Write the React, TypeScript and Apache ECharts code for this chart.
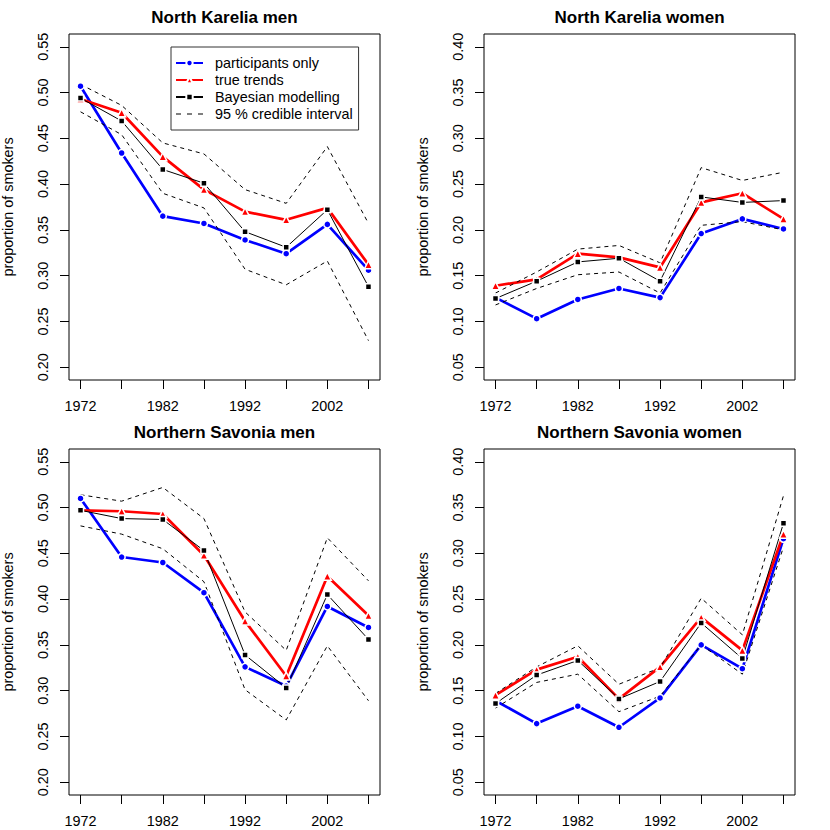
import { useEffect, useRef } from "react";
import * as echarts from "echarts";

const FONT = "Liberation Sans, Arial, Helvetica, sans-serif";

// survey years and tick labels
const years = [1972, 1977, 1982, 1987, 1992, 1997, 2002, 2007];
const yearLabels = [1972, 1982, 1992, 2002];
const menTicks = [0.2, 0.25, 0.3, 0.35, 0.4, 0.45, 0.5, 0.55];
const womenTicks = [0.05, 0.1, 0.15, 0.2, 0.25, 0.3, 0.35, 0.4];

// North Karelia men
const nkMenParticipants = [0.507, 0.434, 0.365, 0.357, 0.339, 0.324, 0.356, 0.306];
const nkMenTrue = [0.493, 0.478, 0.43, 0.394, 0.37, 0.361, 0.374, 0.312];
const nkMenBayes = [0.494, 0.469, 0.416, 0.401, 0.348, 0.331, 0.372, 0.288];
const nkMenUpper = [0.509, 0.486, 0.445, 0.433, 0.394, 0.379, 0.441, 0.357];
const nkMenLower = [0.479, 0.454, 0.39, 0.374, 0.307, 0.29, 0.316, 0.229];

// North Karelia women
const nkWomenParticipants = [0.126, 0.103, 0.124, 0.136, 0.126, 0.196, 0.212, 0.201];
const nkWomenTrue = [0.139, 0.146, 0.174, 0.17, 0.159, 0.23, 0.24, 0.212];
const nkWomenBayes = [0.125, 0.144, 0.165, 0.169, 0.144, 0.236, 0.23, 0.232];
const nkWomenUpper = [0.131, 0.154, 0.179, 0.183, 0.164, 0.268, 0.254, 0.263];
const nkWomenLower = [0.118, 0.136, 0.151, 0.154, 0.131, 0.205, 0.209, 0.2];

// Northern Savonia men
const nsMenParticipants = [0.51, 0.446, 0.44, 0.407, 0.326, 0.305, 0.392, 0.369];
const nsMenTrue = [0.497, 0.496, 0.493, 0.448, 0.376, 0.316, 0.425, 0.382];
const nsMenBayes = [0.497, 0.488, 0.487, 0.453, 0.339, 0.303, 0.405, 0.356];
const nsMenUpper = [0.514, 0.507, 0.522, 0.488, 0.386, 0.344, 0.467, 0.42];
const nsMenLower = [0.48, 0.471, 0.455, 0.419, 0.301, 0.268, 0.349, 0.289];

// Northern Savonia women
const nsWomenParticipants = [0.139, 0.114, 0.133, 0.11, 0.142, 0.2, 0.174, 0.316];
const nsWomenTrue = [0.145, 0.173, 0.187, 0.141, 0.176, 0.23, 0.194, 0.321];
const nsWomenBayes = [0.136, 0.167, 0.183, 0.141, 0.16, 0.224, 0.185, 0.333];
const nsWomenUpper = [0.147, 0.176, 0.199, 0.157, 0.175, 0.251, 0.211, 0.363];
const nsWomenLower = [0.131, 0.159, 0.168, 0.127, 0.144, 0.2, 0.168, 0.307];

const panels = [
  { title: "North Karelia men", left: 69, top: 34, ticks: menTicks, min: 0.186, max: 0.564,
    part: nkMenParticipants, tru: nkMenTrue, bayes: nkMenBayes, up: nkMenUpper, lo: nkMenLower },
  { title: "North Karelia women", left: 484, top: 34, ticks: womenTicks, min: 0.036, max: 0.414,
    part: nkWomenParticipants, tru: nkWomenTrue, bayes: nkWomenBayes, up: nkWomenUpper, lo: nkWomenLower },
  { title: "Northern Savonia men", left: 69, top: 449, ticks: menTicks, min: 0.186, max: 0.564,
    part: nsMenParticipants, tru: nsMenTrue, bayes: nsMenBayes, up: nsMenUpper, lo: nsMenLower },
  { title: "Northern Savonia women", left: 484, top: 449, ticks: womenTicks, min: 0.036, max: 0.414,
    part: nsWomenParticipants, tru: nsWomenTrue, bayes: nsWomenBayes, up: nsWomenUpper, lo: nsWomenLower },
];

const W = 311;
const H = 346;

// dashed legend key for the credible interval
const DASH_ICON = "path://M0,0h5v1.2h-5z M11,0h5v1.2h-5z M22,0h5v1.2h-5z";

const App = () => {
  const chartRef = useRef<HTMLDivElement>(null);

  useEffect(() => {
    if (!chartRef.current) return;
    const chart = echarts.init(chartRef.current, null, { renderer: "svg" });

    const series: any[] = [];
    panels.forEach((p, i) => {
      const pts = (vals: number[]) => years.map((yr, j) => [yr, vals[j]]);
      const base = { type: "line", xAxisIndex: i, yAxisIndex: i, silent: true, emphasis: { disabled: true } };
      series.push({
        ...base, name: "participants only", data: pts(p.part),
        symbol: "circle", symbolSize: 7,
        lineStyle: { color: "#0000ff", width: 2.7 },
        itemStyle: { color: "#0000ff", borderColor: "#fff", borderWidth: 1.5 },
      });
      series.push({
        ...base, name: "true trends", data: pts(p.tru),
        symbol: "triangle", symbolSize: 8,
        lineStyle: { color: "#ff0000", width: 2.7 },
        itemStyle: { color: "#ff0000", borderColor: "#fff", borderWidth: 1.5 },
      });
      series.push({
        ...base, name: "Bayesian modelling", data: pts(p.bayes),
        symbol: "rect", symbolSize: 6,
        lineStyle: { color: "#000", width: 1 },
        itemStyle: { color: "#000", borderColor: "#fff", borderWidth: 1.5 },
      });
      [p.up, p.lo].forEach((v) => {
        series.push({
          ...base, name: "95 % credible interval", data: pts(v),
          symbol: "none",
          lineStyle: { color: "#000", width: 1, type: [4, 4] },
          itemStyle: { color: "#000" },
        });
      });
    });

    const option = {
      animation: false,
      backgroundColor: "#fff",
      grid: panels.map((p) => ({
        left: p.left, top: p.top, width: W, height: H,
        show: true, borderColor: "#000", borderWidth: 1, backgroundColor: "transparent",
      })),
      xAxis: panels.map((p, i) => ({
        gridIndex: i, type: "value", min: 1970.6, max: 2008.4,
        axisLine: { show: false, onZero: false },
        splitLine: { show: false },
        axisTick: { show: true, length: 9, customValues: years, lineStyle: { color: "#000" } },
        axisLabel: {
          customValues: yearLabels, margin: 19, color: "#000", fontSize: 14.4, fontFamily: FONT,
          formatter: (v: number) => String(v),
        },
      })),
      yAxis: panels.map((p, i) => ({
        gridIndex: i, type: "value", min: p.min, max: p.max,
        axisLine: { show: false, onZero: false },
        splitLine: { show: false },
        axisTick: { show: true, length: 9, customValues: p.ticks, lineStyle: { color: "#000" } },
        axisLabel: {
          customValues: p.ticks, rotate: 90, margin: 19, color: "#000", fontSize: 14.4, fontFamily: FONT,
          formatter: (v: number) => v.toFixed(2),
        },
        name: "proportion of smokers", nameLocation: "middle", nameGap: 54, nameRotate: 90,
        nameTextStyle: { color: "#000", fontSize: 14.4, fontFamily: FONT },
      })),
      legend: {
        left: 171, top: 47, orient: "vertical",
        data: [
          { name: "participants only" },
          { name: "true trends" },
          { name: "Bayesian modelling" },
          { name: "95 % credible interval", icon: DASH_ICON },
        ],
        backgroundColor: "#fff", borderColor: "#333", borderWidth: 1,
        padding: [9, 6, 9, 4],
        itemWidth: 27, itemHeight: 8, itemGap: 3,
        selectedMode: false,
        textStyle: { color: "#000", fontSize: 14.4, fontFamily: FONT, padding: [0, 0, 0, 7] },
      },
      graphic: panels.map((p) => ({
        type: "text", x: p.left + W / 2, y: p.top - 17,
        style: {
          text: p.title, align: "center", verticalAlign: "middle",
          font: `bold 17px ${FONT}`, fill: "#000",
        },
      })),
      series,
    };

    chart.setOption(option);
    return () => chart.dispose();
  }, []);

  return (
    <div
      ref={chartRef}
      style={{ position: "absolute", left: 0, top: 0, width: 830, height: 830, background: "#fff" }}
    />
  );
};

export default App;
